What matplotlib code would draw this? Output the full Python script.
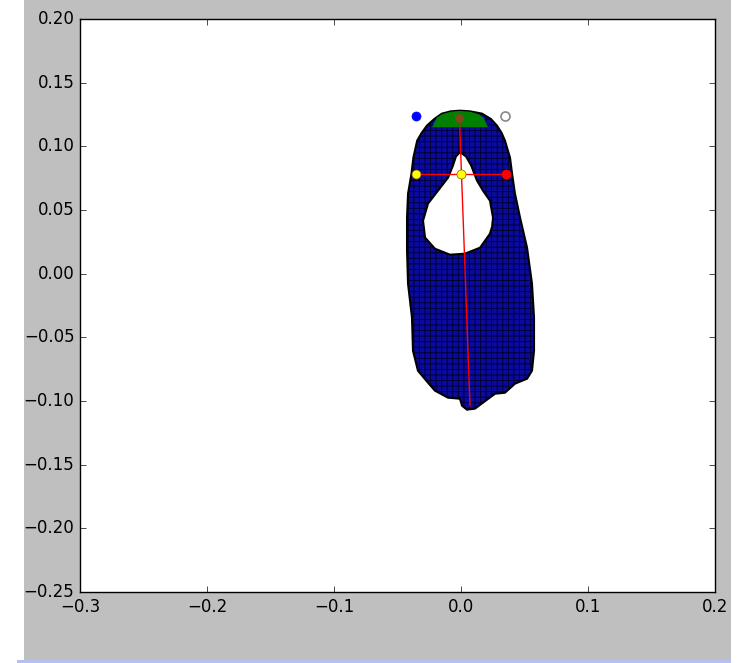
import matplotlib
matplotlib.use('Agg')
import matplotlib.pyplot as plt
from matplotlib.patches import PathPatch, Polygon, Rectangle
from matplotlib.path import Path

plt.style.use('classic')
plt.rcParams['hatch.linewidth'] = 0.6

# foot outline (clockwise from the top)
foot_x = [-0.0008, 0.0070, 0.0165, 0.0235, 0.0283, 0.0320, 0.0346, 0.0386, 0.0402,
          0.0425, 0.0465, 0.0520, 0.0559, 0.0575, 0.0575, 0.0559, 0.0520, 0.0425,
          0.0346, 0.0268, 0.0173, 0.0110, 0.0047, 0.0008, -0.0008, -0.0102, -0.0205,
          -0.0260, -0.0339, -0.0378, -0.0386, -0.0417, -0.0425, -0.0425, -0.0417,
          -0.0390, -0.0375, -0.0345, -0.0310, -0.0268, -0.0210, -0.0150, -0.0080]
foot_y = [0.1280, 0.1275, 0.1257, 0.1215, 0.1163, 0.1105, 0.1045, 0.0911, 0.0786,
          0.0628, 0.0440, 0.0204, -0.0079, -0.0346, -0.0605, -0.0762, -0.0825, -0.0864,
          -0.0935, -0.0943, -0.1013, -0.1060, -0.1068, -0.1037, -0.0982, -0.0974, -0.0919,
          -0.0856, -0.0762, -0.0605, -0.0346, -0.0079, 0.0181, 0.0440, 0.0628,
          0.0786, 0.0911, 0.1045, 0.1105, 0.1163, 0.1215, 0.1257, 0.1275]

# hole in the foot
hole_x = [-0.0008, 0.0040, 0.0080, 0.0126, 0.0173, 0.0228, 0.0252, 0.0245, 0.0228,
          0.0150, 0.0031, -0.0087, -0.0205, -0.0283, -0.0299, -0.0260, -0.0181,
          -0.0102, -0.0063, -0.0040]
hole_y = [0.0955, 0.0920, 0.0850, 0.0731, 0.0652, 0.0573, 0.0440, 0.0370, 0.0314,
          0.0204, 0.0157, 0.0149, 0.0196, 0.0283, 0.0416, 0.0550, 0.0652,
          0.0754, 0.0850, 0.0920]

# green cap at the heel
cap_x = [-0.0228, -0.0190, -0.0150, -0.0080, -0.0008, 0.0070, 0.0140, 0.0180, 0.0213]
cap_y = [0.1150, 0.1225, 0.1252, 0.1272, 0.1278, 0.1272, 0.1252, 0.1222, 0.1150]

# foot axis and cross line
axis_x = [-0.0013, 0.0071]
axis_y = [0.1240, -0.1037]
cross_x = [-0.0354, 0.0354]
cross_y = [0.0786, 0.0786]

# marker points
blue_pt = (-0.0354, 0.1240)
open_pt = (0.0346, 0.1240)
top_pt = (-0.0013, 0.1225)
yellow_x = [-0.0354, 0.0]
yellow_y = [0.0786, 0.0786]
red_pt = (0.0354, 0.0786)

xticks = [-0.3, -0.2, -0.1, 0.0, 0.1, 0.2]
yticks = [-0.25, -0.20, -0.15, -0.10, -0.05, 0.00, 0.05, 0.10, 0.15, 0.20]


def ring(xs, ys):
    verts = list(zip(xs, ys)) + [(xs[0], ys[0])]
    codes = [Path.MOVETO] + [Path.LINETO] * (len(xs) - 1) + [Path.CLOSEPOLY]
    return verts, codes


fig = plt.figure(figsize=(7.46, 6.63), dpi=100, facecolor='white')
fig.add_artist(Rectangle((24 / 746, 3 / 663), 707 / 746, 660 / 663,
                         transform=fig.transFigure, facecolor='#bfbfbf',
                         edgecolor='none', zorder=-10))
fig.add_artist(Rectangle((17 / 746, 0), 714 / 746, 3 / 663,
                         transform=fig.transFigure, facecolor='#b4bff2',
                         edgecolor='none', zorder=-10))

ax = fig.add_axes([80 / 746, 71 / 663, 635 / 746, 573 / 663])

v1, c1 = ring(foot_x, foot_y)
v2, c2 = ring(hole_x[::-1], hole_y[::-1])
foot_path = Path(v1 + v2, c1 + c2)

ax.add_patch(PathPatch(foot_path, facecolor='#0a0a9e', edgecolor='none', zorder=2))
ax.add_patch(PathPatch(foot_path, facecolor='none', edgecolor='#00002a',
                       hatch='+++', linewidth=0, zorder=3))
ax.add_patch(PathPatch(foot_path, facecolor='none', edgecolor='black',
                       linewidth=1.5, zorder=4))
ax.add_patch(Polygon(list(zip(cap_x, cap_y)), closed=True, facecolor='#007f00',
                     edgecolor='none', zorder=5))

ax.plot(axis_x, axis_y, color='red', linewidth=1, zorder=6)
ax.plot(cross_x, cross_y, color='red', linewidth=1, zorder=6)

ax.plot(*blue_pt, 'o', color='blue', markeredgecolor='blue', markersize=6.5, zorder=7)
ax.plot(*open_pt, 'o', markerfacecolor='white', markeredgecolor='#888888',
        markeredgewidth=1.2, markersize=6.5, zorder=7)
ax.plot(*top_pt, 'o', color='#7a4a1a', markeredgecolor='#7a4a1a', markersize=6, zorder=7)
ax.plot(yellow_x, yellow_y, 'o', linestyle='none', markerfacecolor='yellow',
        markeredgecolor='#806000', markersize=6.5, zorder=7)
ax.plot(*red_pt, 'o', color='red', markeredgecolor='red', markersize=6.5, zorder=7)

ax.set_xlim(-0.3, 0.2)
ax.set_ylim(-0.25, 0.2)
ax.set_xticks(xticks)
ax.set_yticks(yticks)
ax.tick_params(labelsize=12)

fig.savefig('out.png', dpi=100, facecolor=fig.get_facecolor())
